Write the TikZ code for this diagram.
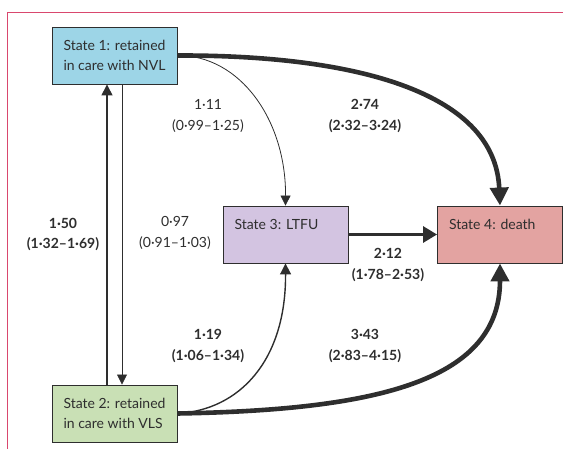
\documentclass[tikz,border=0pt]{standalone}
\usepackage{fontspec}
\setmainfont{Lato}
\usetikzlibrary{arrows.meta}
\definecolor{stateone}{HTML}{9DD5E7}
\definecolor{statetwo}{HTML}{C9E0B5}
\definecolor{statethree}{HTML}{D3C4E1}
\definecolor{statefour}{HTML}{E3A3A1}
\definecolor{framepink}{HTML}{D9476E}
\definecolor{inkgrey}{HTML}{2E2E2E}
\newcommand{\stlabel}[1]{\parbox[c][57pt][t]{102pt}{\fontsize{14}{20}\selectfont\rule{0pt}{24pt}#1}}

\begin{document}
\begin{tikzpicture}[x=1pt, y=-1pt,
  statebox/.style={draw=inkgrey, line width=0.9pt, minimum width=125pt, minimum height=57pt, inner sep=0pt, text=inkgrey},
  lab/.style={align=center, text=inkgrey, font=\fontsize{14}{20.5}\selectfont},
  arrowthin/.style={draw=inkgrey, line width=0.8pt, -{Triangle[length=10pt,width=10pt]}},
  arrowmid/.style={draw=inkgrey, line width=1.4pt, -{Triangle[length=11pt,width=11pt]}},
  arrowthick/.style={draw=inkgrey, line width=3pt, -{Triangle[length=14pt,width=16pt]}},
  arrowheavy/.style={draw=inkgrey, line width=4.6pt, -{Triangle[length=18pt,width=18pt]}}]
\useasboundingbox (0,0) rectangle (563,449);
\draw[framepink, line width=1pt] (563,13) -- (7,13) -- (7,449);

\node[statebox, fill=stateone] (s1) at (114.5,55.5) {\stlabel{State 1: retained\\in care with NVL}};
\node[statebox, fill=statetwo] (s2) at (114.5,413.5) {\stlabel{State 2: retained\\in care with VLS}};
\node[statebox, fill=statethree] (s3) at (285.5,234.5) {\stlabel{State 3: LTFU}};
\node[statebox, fill=statefour] (s4) at (500,234.5) {\stlabel{State 4: death}};

\draw[arrowmid] ([xshift=-7.5pt]s2.north) -- ([xshift=-7.5pt]s1.south);
\draw[arrowthin] ([xshift=7.5pt]s1.south) -- ([xshift=7.5pt]s2.north);
\draw[arrowthin] (s1.east) .. controls (240,55) and (286,120) .. (s3.north);
\draw[arrowheavy] (s1.east) .. controls (350,55) and (495,90) .. (s4.north);
\draw[arrowthick] (s3.east) -- (s4.west);
\draw[arrowmid] (s2.east) .. controls (240,410) and (286,360) .. (s3.south);
\draw[arrowheavy] (s2.east) .. controls (380,410) and (500,380) .. (s4.south);

\node[lab] (l150) at (63,234.5) {\textbf{1·50}\\\textbf{(1·32–1·69)}};
\node[lab] (l097) at (175,233) {0·97\\(0·91–1·03)};
\node[lab] (l111) at (208,116) {1·11\\(0·99–1·25)};
\node[lab] (l274) at (365,116) {\textbf{2·74}\\\textbf{(2·32–3·24)}};
\node[lab] (l212) at (388,265) {\textbf{2·12}\\\textbf{(1·78–2·53)}};
\node[lab] (l119) at (208,346) {\textbf{1·19}\\\textbf{(1·06–1·34)}};
\node[lab] (l343) at (365,346) {\textbf{3·43}\\\textbf{(2·83–4·15)}};
\end{tikzpicture}
\end{document}
